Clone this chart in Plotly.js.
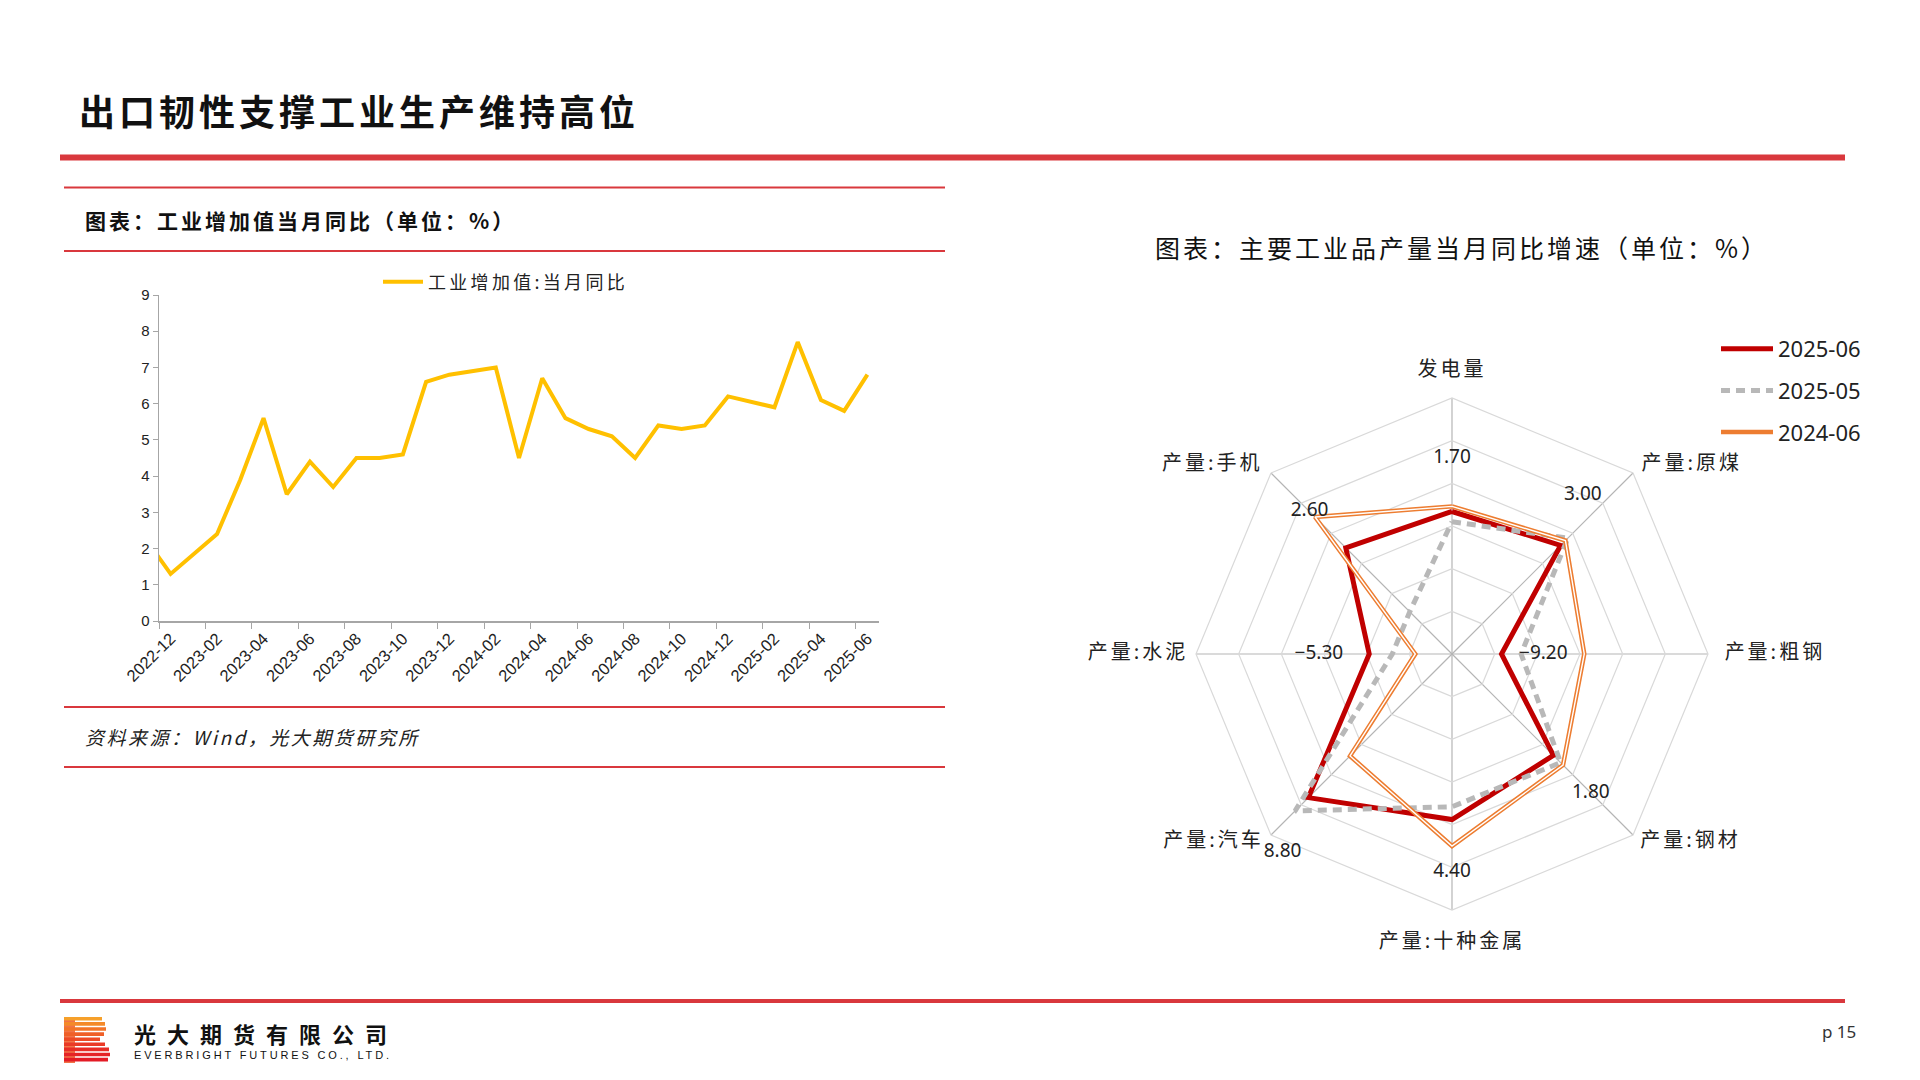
<!DOCTYPE html>
<html>
<head>
<meta charset="utf-8">
<script src="https://cdn.plot.ly/plotly-3.0.1.min.js"></script>
<style>
html,body{margin:0;padding:0;background:#fff;}
#chart{width:1920px;height:1080px;}
</style>
</head>
<body>
<div id="chart"></div>
<script>
// ---------- Data: industrial value added, monthly YoY (%) ----------
const months = [
  '2022-11','2022-12','2023-01','2023-02','2023-03','2023-04','2023-05','2023-06',
  '2023-07','2023-08','2023-09','2023-10','2023-11','2023-12','2024-01','2024-02',
  '2024-03','2024-04','2024-05','2024-06','2024-07','2024-08','2024-09','2024-10',
  '2024-11','2024-12','2025-01','2025-02','2025-03','2025-04','2025-05','2025-06'
];
const ivaYoY = [
  2.2, 1.3, null, 2.4, 3.9, 5.6, 3.5, 4.4,
  3.7, 4.5, 4.5, 4.6, 6.6, 6.8, null, 7.0,
  4.5, 6.7, 5.6, 5.3, 5.1, 4.5, 5.4, 5.3,
  5.4, 6.2, null, 5.9, 7.7, 6.1, 5.8, 6.8
];
const lineSeriesName = '工业增加值:当月同比';

// ---------- Data: major industrial products, monthly YoY (%) ----------
const radarCats = ['发电量','产量:原煤','产量:粗钢','产量:钢材','产量:十种金属','产量:汽车','产量:水泥','产量:手机'];
const radarNames = ['2025-06','2025-05','2024-06'];
const yoy202506 = [1.7, 3.0, -9.2, 1.8, 4.4, 8.8, -5.3, 2.6];
const yoy202505 = [0.5, 4.2, -6.9, 3.0, 2.9, 11.0, -8.0, -8.0];
const yoy202406 = [2.3, 3.8, 0.5, 3.4, 7.5, 1.9, -10.7, 7.7];

// ---------- Styles / positions (not data) ----------
const labelShift = [6.2, 6.8, 4.9, 6.2, 6.2, 7.4, 5.9, 6.0];
const labelPos = ['middle center','top left','middle center','middle center','middle center','bottom right','middle center','middle center'];
const catLabelR = [18.15, 16.4, 16.95, 16.2, 18.85, 16.2, 15.9, 16.4];
const catLabelPos = ['middle center','middle right','middle right','middle right','middle center','middle left','middle left','middle left'];

const W = 1920, H = 1080;
const px = x => x / W;
const py = y => 1 - y / H;
const CJK = '"Noto Sans CJK SC", "Noto Sans", sans-serif';
const NUM = '"Liberation Sans Narrow", "Liberation Sans", Arial, sans-serif';
const RED = '#d9383d';

// radar geometry: main polar radius 256px, label layer radius 420px, same centre
const RC = {x: 1452, y: 654}, R1 = 256, R2 = 420;
const rMin = -15, rMax = 15;
const rMax2 = rMin + (rMax - rMin) * R2 / R1;

const close = arr => arr.concat([arr[0]]);
const fmt = v => (v < 0 ? '\u2212' + Math.abs(v).toFixed(2) : v.toFixed(2));
const spaced = (t, ls) => '<span style="letter-spacing:' + ls + 'px">' + t + '</span>';

const traces = [
  {
    type: 'scatter', mode: 'lines', x: months, y: ivaYoY, name: spaced(lineSeriesName, 3.3),
    connectgaps: true, line: {color: '#ffc000', width: 4},
    xaxis: 'x', yaxis: 'y', legend: 'legend'
  },
  {
    type: 'scatterpolar', mode: 'lines', r: close(yoy202506), theta: close(radarCats),
    name: radarNames[0], line: {color: '#c00000', width: 5}, subplot: 'polar',
    legend: 'legend2', legendgroup: 'a'
  },
  {
    type: 'scatterpolar', mode: 'lines', r: close(yoy202505), theta: close(radarCats),
    name: radarNames[1], line: {color: '#b8b8b8', width: 5, dash: '9px,6px'}, subplot: 'polar',
    legend: 'legend2', legendgroup: 'b'
  },
  {
    type: 'scatterpolar', mode: 'lines', r: close(yoy202406), theta: close(radarCats),
    name: radarNames[2], line: {color: '#ed7d31', width: 4.5}, subplot: 'polar',
    legend: 'legend2', legendgroup: 'c'
  },
  {
    type: 'scatterpolar', mode: 'lines', r: close(yoy202406), theta: close(radarCats),
    name: radarNames[2] + ' inner', line: {color: '#ffffff', width: 1.4}, subplot: 'polar',
    showlegend: false
  },
  {
    type: 'scatterpolar', mode: 'text', subplot: 'polar2', showlegend: false,
    r: yoy202506.map((v, i) => v + labelShift[i]), theta: radarCats,
    text: yoy202506.map(fmt), textposition: labelPos, cliponaxis: true,
    textfont: {family: '"Noto Sans", "DejaVu Sans", sans-serif', size: 19, color: '#222'}
  },
  {
    type: 'scatterpolar', mode: 'text', subplot: 'polar2', showlegend: false,
    r: catLabelR, theta: radarCats,
    text: radarCats.map(c => spaced(c, 3)), textposition: catLabelPos, cliponaxis: true,
    textfont: {family: CJK, size: 20, color: '#222'}
  }
];

// logo stripes
const logoShapes = [];
const stripeLens = [102, 105, 106, 104, 100, 105, 109, 110, 108];
const stripeCols = ['#f6a02a','#f48a29','#f27428','#ef5f27','#ec4a26','#ea3a26','#e72d26','#e52326','#e31b25'];
for (let i = 0; i < stripeLens.length; i++) {
  const y0 = 1017 + i * 5.1;
  logoShapes.push({type: 'rect', xref: 'paper', yref: 'paper', x0: px(64), x1: px(stripeLens[i]),
    y0: py(y0), y1: py(y0 + 3.6), fillcolor: stripeCols[i], line: {width: 0}});
}
logoShapes.push({type: 'rect', xref: 'paper', yref: 'paper', x0: px(64), x1: px(75),
  y0: py(1017), y1: py(1063), fillcolor: '#ee5a27', opacity: 0.85, line: {width: 0}, layer: 'below'});

const hline = (y, x0, x1, w, c) => ({type: 'line', xref: 'paper', yref: 'paper',
  x0: px(x0), x1: px(x1), y0: py(y), y1: py(y), line: {color: c, width: w}});

const ann = (text, x, y, font, xanchor) => ({text: text, x: px(x), y: py(y), xanchor: xanchor || 'left',
  yanchor: 'middle', showarrow: false, xref: 'paper', yref: 'paper', font: font});

const layout = {
  width: W, height: H, margin: {l: 0, r: 0, t: 0, b: 0},
  paper_bgcolor: '#ffffff', plot_bgcolor: 'rgba(0,0,0,0)',
  font: {family: CJK, color: '#222'},
  hovermode: false,
  xaxis: {
    domain: [px(159), px(879)], anchor: 'y', type: 'category',
    range: [0.5, 31.5], tickmode: 'linear', tick0: 1, dtick: 2, tickson: 'boundaries',
    ticks: 'outside', ticklen: 6, tickcolor: '#a6a6a6', tickwidth: 1,
    showline: true, linecolor: '#a6a6a6', linewidth: 1.5, showgrid: false, zeroline: false,
    tickangle: -45, tickfont: {family: '"Liberation Sans", Arial, sans-serif', size: 16.5, color: '#222'}
  },
  yaxis: {
    domain: [py(621), py(295)], anchor: 'x', range: [0, 9], dtick: 1, tick0: 0,
    ticks: 'outside', ticklen: 5, tickcolor: '#a6a6a6', showline: true, linecolor: '#a6a6a6',
    linewidth: 1.5, showgrid: false, zeroline: false,
    tickfont: {family: NUM, size: 15, color: '#222'}
  },
  polar: {
    domain: {x: [px(RC.x - R1), px(RC.x + R1)], y: [py(RC.y + R1), py(RC.y - R1)]},
    bgcolor: 'rgba(0,0,0,0)', gridshape: 'linear',
    radialaxis: {range: [rMin, rMax], tick0: rMin, dtick: 5, showticklabels: false, ticks: '',
      showline: false, gridcolor: '#d9d9d9', gridwidth: 1.2, angle: 90},
    angularaxis: {direction: 'clockwise', rotation: 90, type: 'category',
      gridcolor: '#b5b5b5', gridwidth: 1.2, showline: true, linecolor: '#d9d9d9', linewidth: 1.2,
      ticks: '', showticklabels: false}
  },
  polar2: {
    domain: {x: [px(RC.x - R2), px(RC.x + R2)], y: [py(RC.y + R2), py(RC.y - R2)]},
    bgcolor: 'rgba(0,0,0,0)', gridshape: 'linear',
    radialaxis: {range: [rMin, rMax2], visible: false, showgrid: false, showline: false, showticklabels: false, ticks: ''},
    angularaxis: {direction: 'clockwise', rotation: 90, type: 'category', visible: false,
      showgrid: false, showline: false, showticklabels: false, ticks: ''}
  },
  legend: {
    orientation: 'h', x: px(378), y: py(282), xanchor: 'left', yanchor: 'middle', itemwidth: 40,
    bgcolor: 'rgba(0,0,0,0)', font: {family: CJK, size: 18, color: '#222'}
  },
  legend2: {
    orientation: 'v', x: px(1716), y: py(328), xanchor: 'left', yanchor: 'top', itemwidth: 52,
    traceorder: 'grouped', tracegroupgap: 10,
    bgcolor: 'rgba(0,0,0,0)', font: {family: '"Noto Sans", sans-serif', size: 22, color: '#222'}
  },
  annotations: [
    ann(spaced('出口韧性支撑工业生产维持高位', 4), 77, 110, {family: CJK, size: 36, weight: 'bold', color: '#111'}),
    ann(spaced('图表：工业增加值当月同比（单位：%）', 3), 83, 220, {family: CJK, size: 21, weight: 'bold', color: '#111'}),
    ann(spaced('资料来源：Wind，光大期货研究所', 2.5), 83, 736, {family: CJK, size: 19, style: 'italic', color: '#222'}),
    ann(spaced('图表：主要工业品产量当月同比增速（单位：%）', 3), 1153, 247, {family: CJK, size: 25, color: '#111'}),
    ann(spaced('光大期货有限公司', 11), 132, 1033, {family: CJK, size: 22, weight: 'bold', color: '#111'}),
    ann(spaced('EVERBRIGHT FUTURES CO., LTD.', 2.85), 132, 1055, {family: '"Liberation Sans", Arial, sans-serif', size: 11, color: '#111'}),
    ann('p 15', 1858, 1031, {family: '"Noto Sans", sans-serif', size: 17, color: '#333'}, 'right')
  ],
  shapes: [
    {type: 'rect', xref: 'paper', yref: 'paper', x0: px(60), x1: px(1845), y0: py(160.5), y1: py(154.5),
      fillcolor: RED, line: {width: 0}},
    hline(187.5, 64, 945, 2, RED),
    hline(251, 64, 945, 2, RED),
    hline(707, 64, 945, 2, RED),
    hline(767, 64, 945, 2, RED),
    {type: 'rect', xref: 'paper', yref: 'paper', x0: px(60), x1: px(1845), y0: py(1003), y1: py(999),
      fillcolor: RED, line: {width: 0}}
  ].concat(logoShapes)
};

Plotly.newPlot('chart', traces, layout, {staticPlot: true, displayModeBar: false});
</script>
</body>
</html>
